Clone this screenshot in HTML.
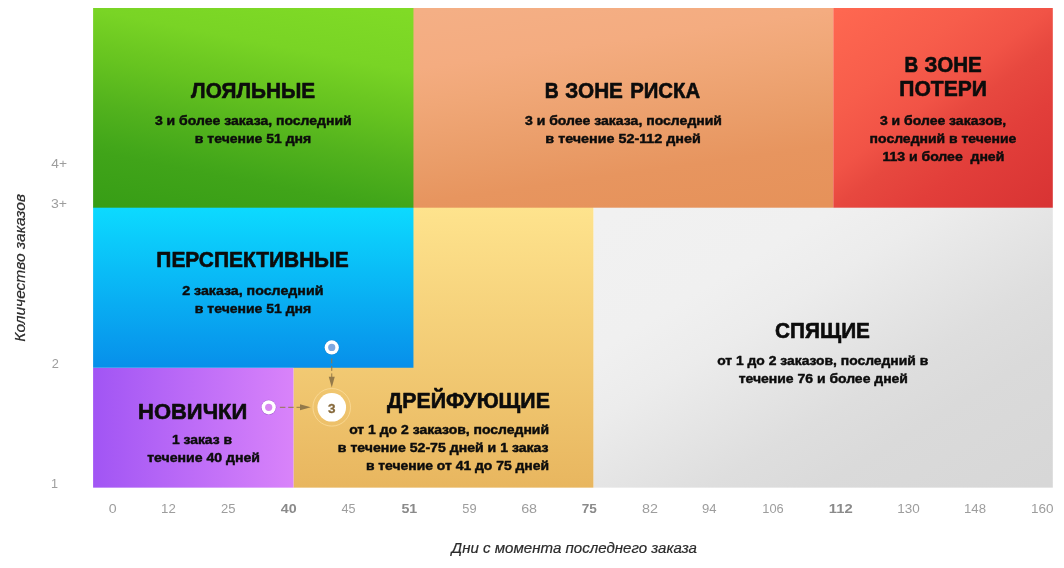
<!DOCTYPE html>
<html lang="ru"><head><meta charset="utf-8"><title>RFM сегменты</title>
<style>html,body{margin:0;padding:0;background:#fff}svg{display:block}text{font-family:"Liberation Sans", sans-serif;}</style></head><body>
<svg width="1064" height="568" viewBox="0 0 1064 568">
<defs><linearGradient id="gG" gradientUnits="userSpaceOnUse" x1="13.6" y1="-69.7" x2="-35.7" y2="183.6"><stop offset="0.0000" stop-color="rgb(128,219,38)"/><stop offset="0.0155" stop-color="rgb(128,219,38)"/><stop offset="0.2442" stop-color="rgb(121,212,37)"/><stop offset="0.3798" stop-color="rgb(107,199,33)"/><stop offset="0.4186" stop-color="rgb(103,196,32)"/><stop offset="0.6008" stop-color="rgb(82,178,29)"/><stop offset="0.7442" stop-color="rgb(67,167,26)"/><stop offset="0.7829" stop-color="rgb(64,164,25)"/><stop offset="0.9729" stop-color="rgb(56,158,22)"/><stop offset="1.0000" stop-color="rgb(55,157,22)"/></linearGradient><linearGradient id="gO" gradientUnits="userSpaceOnUse" x1="9.0" y1="64.3" x2="44.8" y2="318.8"><stop offset="0.0000" stop-color="rgb(244,175,133)"/><stop offset="0.0195" stop-color="rgb(244,175,133)"/><stop offset="0.2374" stop-color="rgb(244,172,128)"/><stop offset="0.3852" stop-color="rgb(240,167,119)"/><stop offset="0.6031" stop-color="rgb(234,157,105)"/><stop offset="0.7549" stop-color="rgb(231,149,95)"/><stop offset="0.9728" stop-color="rgb(230,146,90)"/><stop offset="1.0000" stop-color="rgb(230,146,90)"/></linearGradient><linearGradient id="gR" gradientUnits="userSpaceOnUse" x1="305.8" y1="405.9" x2="481.6" y2="639.2"><stop offset="0.0000" stop-color="rgb(255,104,81)"/><stop offset="0.0274" stop-color="rgb(254,103,80)"/><stop offset="0.2842" stop-color="rgb(247,93,75)"/><stop offset="0.4486" stop-color="rgb(241,83,70)"/><stop offset="0.5479" stop-color="rgb(231,72,63)"/><stop offset="0.7055" stop-color="rgb(226,62,58)"/><stop offset="0.9692" stop-color="rgb(217,52,52)"/><stop offset="1.0000" stop-color="rgb(216,51,52)"/></linearGradient><linearGradient id="gB" gradientUnits="userSpaceOnUse" x1="0.0" y1="208.0" x2="0.0" y2="368.0"><stop offset="0.0000" stop-color="rgb(12,218,255)"/><stop offset="1.0000" stop-color="rgb(7,143,234)"/></linearGradient><linearGradient id="gP" gradientUnits="userSpaceOnUse" x1="93.0" y1="0.0" x2="293.0" y2="0.0"><stop offset="0.0000" stop-color="rgb(161,85,244)"/><stop offset="1.0000" stop-color="rgb(217,131,250)"/></linearGradient><linearGradient id="gY" gradientUnits="userSpaceOnUse" x1="0.0" y1="208.0" x2="0.0" y2="488.0"><stop offset="0.0000" stop-color="rgb(254,227,141)"/><stop offset="1.0000" stop-color="rgb(232,182,95)"/></linearGradient><linearGradient id="gS" gradientUnits="userSpaceOnUse" x1="251.2" y1="415.2" x2="498.8" y2="824.3"><stop offset="0.0000" stop-color="rgb(241,241,241)"/><stop offset="0.0209" stop-color="rgb(241,241,241)"/><stop offset="0.2615" stop-color="rgb(240,240,240)"/><stop offset="0.3808" stop-color="rgb(236,236,236)"/><stop offset="0.5021" stop-color="rgb(229,229,229)"/><stop offset="0.6234" stop-color="rgb(222,222,222)"/><stop offset="0.7427" stop-color="rgb(218,218,218)"/><stop offset="0.9812" stop-color="rgb(215,215,215)"/><stop offset="1.0000" stop-color="rgb(215,215,215)"/></linearGradient></defs>
<rect x="0" y="0" width="1064" height="568" fill="#fff"/>
<rect x="593.4" y="206.7" width="459.40" height="280.95" fill="url(#gS)"/>
<rect x="293.45" y="206.7" width="299.95" height="280.95" fill="url(#gY)"/>
<rect x="93.1" y="367.75" width="200.35" height="119.90" fill="url(#gP)"/>
<rect x="93.1" y="206.7" width="320.35" height="161.05" fill="url(#gB)"/>
<rect x="412.45" y="8.0" width="420.85" height="199.70" fill="url(#gO)"/>
<rect x="93.1" y="8.0" width="320.35" height="199.70" fill="url(#gG)"/>
<rect x="833.3" y="8.0" width="219.50" height="199.70" fill="url(#gR)"/>
<text transform="translate(191.05 97.7) scale(0.9621 1)" font-size="21.6" font-weight="bold" font-style="normal" fill="#0c0c0c" stroke="#0c0c0c" stroke-width="0.6" stroke-linejoin="round">ЛОЯЛЬНЫЕ</text>
<text transform="translate(154.95 124.7) scale(1.1032 1)" font-size="12.7" font-weight="bold" font-style="normal" fill="#0c0c0c" stroke="#0c0c0c" stroke-width="0.45" stroke-linejoin="round">3 и более заказа, последний</text>
<text transform="translate(194.87 142.7) scale(1.1017 1)" font-size="12.7" font-weight="bold" font-style="normal" fill="#0c0c0c" stroke="#0c0c0c" stroke-width="0.45" stroke-linejoin="round">в течение 51 дня</text>
<text transform="translate(544.71 97.7) scale(0.8962 1)" font-size="21.6" font-weight="bold" font-style="normal" fill="#0c0c0c" stroke="#0c0c0c" stroke-width="0.6" stroke-linejoin="round">В</text>
<text transform="translate(565.32 97.7) scale(0.9600 1)" font-size="21.6" font-weight="bold" font-style="normal" fill="#0c0c0c" stroke="#0c0c0c" stroke-width="0.6" stroke-linejoin="round">ЗОНЕ</text>
<text transform="translate(630.14 97.7) scale(0.9433 1)" font-size="21.6" font-weight="bold" font-style="normal" fill="#0c0c0c" stroke="#0c0c0c" stroke-width="0.6" stroke-linejoin="round">РИСКА</text>
<text transform="translate(524.95 124.7) scale(1.1047 1)" font-size="12.7" font-weight="bold" font-style="normal" fill="#0c0c0c" stroke="#0c0c0c" stroke-width="0.45" stroke-linejoin="round">3 и более заказа, последний</text>
<text transform="translate(545.35 142.7) scale(1.1293 1)" font-size="12.7" font-weight="bold" font-style="normal" fill="#0c0c0c" stroke="#0c0c0c" stroke-width="0.45" stroke-linejoin="round">в течение 52-112 дней</text>
<text transform="translate(904.48 72.2) scale(0.8769 1)" font-size="21.6" font-weight="bold" font-style="normal" fill="#0c0c0c" stroke="#0c0c0c" stroke-width="0.6" stroke-linejoin="round">В</text>
<text transform="translate(924.57 72.2) scale(0.9515 1)" font-size="21.6" font-weight="bold" font-style="normal" fill="#0c0c0c" stroke="#0c0c0c" stroke-width="0.6" stroke-linejoin="round">ЗОНЕ</text>
<text transform="translate(899.34 95.7) scale(0.9759 1)" font-size="21.6" font-weight="bold" font-style="normal" fill="#0c0c0c" stroke="#0c0c0c" stroke-width="0.6" stroke-linejoin="round">ПОТЕРИ</text>
<text transform="translate(879.95 125.2) scale(1.1018 1)" font-size="12.7" font-weight="bold" font-style="normal" fill="#0c0c0c" stroke="#0c0c0c" stroke-width="0.45" stroke-linejoin="round">3 и более заказов,</text>
<text transform="translate(869.62 143.2) scale(1.1009 1)" font-size="12.7" font-weight="bold" font-style="normal" fill="#0c0c0c" stroke="#0c0c0c" stroke-width="0.45" stroke-linejoin="round">последний в течение</text>
<text transform="translate(882.40 161.2) scale(1.1065 1)" font-size="12.7" font-weight="bold" font-style="normal" fill="#0c0c0c" stroke="#0c0c0c" stroke-width="0.45" stroke-linejoin="round">113 и более  дней</text>
<text transform="translate(156.34 267.45) scale(0.9702 1)" font-size="21.6" font-weight="bold" font-style="normal" fill="#0c0c0c" stroke="#0c0c0c" stroke-width="0.6" stroke-linejoin="round">ПЕРСПЕКТИВНЫЕ</text>
<text transform="translate(182.17 294.7) scale(1.1186 1)" font-size="12.7" font-weight="bold" font-style="normal" fill="#0c0c0c" stroke="#0c0c0c" stroke-width="0.45" stroke-linejoin="round">2 заказа, последний</text>
<text transform="translate(194.87 312.7) scale(1.1017 1)" font-size="12.7" font-weight="bold" font-style="normal" fill="#0c0c0c" stroke="#0c0c0c" stroke-width="0.45" stroke-linejoin="round">в течение 51 дня</text>
<text transform="translate(138.02 419.45) scale(1.0182 1)" font-size="21.6" font-weight="bold" font-style="normal" fill="#0c0c0c" stroke="#0c0c0c" stroke-width="0.6" stroke-linejoin="round">НОВИЧКИ</text>
<text transform="translate(171.90 443.95) scale(1.0940 1)" font-size="12.7" font-weight="bold" font-style="normal" fill="#0c0c0c" stroke="#0c0c0c" stroke-width="0.45" stroke-linejoin="round">1 заказ в</text>
<text transform="translate(147.20 461.95) scale(1.1100 1)" font-size="12.7" font-weight="bold" font-style="normal" fill="#0c0c0c" stroke="#0c0c0c" stroke-width="0.45" stroke-linejoin="round">течение 40 дней</text>
<text transform="translate(387.05 408.45) scale(0.9872 1)" font-size="21.6" font-weight="bold" font-style="normal" fill="#0c0c0c" stroke="#0c0c0c" stroke-width="0.6" stroke-linejoin="round">ДРЕЙФУЮЩИЕ</text>
<text transform="translate(349.17 433.95) scale(1.1001 1)" font-size="12.7" font-weight="bold" font-style="normal" fill="#0c0c0c" stroke="#0c0c0c" stroke-width="0.45" stroke-linejoin="round">от 1 до 2 заказов, последний</text>
<text transform="translate(337.86 451.95) scale(1.1105 1)" font-size="12.7" font-weight="bold" font-style="normal" fill="#0c0c0c" stroke="#0c0c0c" stroke-width="0.45" stroke-linejoin="round">в течение 52-75 дней и 1 заказ</text>
<text transform="translate(365.88 469.95) scale(1.0956 1)" font-size="12.7" font-weight="bold" font-style="normal" fill="#0c0c0c" stroke="#0c0c0c" stroke-width="0.45" stroke-linejoin="round">в течение от 41 до 75 дней</text>
<text transform="translate(775.09 337.7) scale(0.9628 1)" font-size="21.6" font-weight="bold" font-style="normal" fill="#0c0c0c" stroke="#0c0c0c" stroke-width="0.6" stroke-linejoin="round">СПЯЩИЕ</text>
<text transform="translate(717.18 364.7) scale(1.0940 1)" font-size="12.7" font-weight="bold" font-style="normal" fill="#0c0c0c" stroke="#0c0c0c" stroke-width="0.45" stroke-linejoin="round">от 1 до 2 заказов, последний в</text>
<text transform="translate(738.70 382.7) scale(1.1003 1)" font-size="12.7" font-weight="bold" font-style="normal" fill="#0c0c0c" stroke="#0c0c0c" stroke-width="0.45" stroke-linejoin="round">течение 76 и более дней</text>
<text transform="translate(108.69 513.25) scale(1.1250 1)" font-size="12.6" font-weight="normal" font-style="normal" fill="#9d9d9d">0</text>
<text transform="translate(161.05 513.25) scale(1.0531 1)" font-size="12.6" font-weight="normal" font-style="normal" fill="#9d9d9d">12</text>
<text transform="translate(220.97 513.25) scale(1.0392 1)" font-size="12.6" font-weight="normal" font-style="normal" fill="#9d9d9d">25</text>
<text transform="translate(280.72 513.25) scale(1.1321 1)" font-size="12.6" font-weight="bold" font-style="normal" fill="#8a8a8a">40</text>
<text transform="translate(341.50 513.25) scale(1.0000 1)" font-size="12.6" font-weight="normal" font-style="normal" fill="#9d9d9d">45</text>
<text transform="translate(401.43 513.25) scale(1.1321 1)" font-size="12.6" font-weight="bold" font-style="normal" fill="#8a8a8a">51</text>
<text transform="translate(462.24 513.25) scale(1.0192 1)" font-size="12.6" font-weight="normal" font-style="normal" fill="#9d9d9d">59</text>
<text transform="translate(521.15 513.25) scale(1.1373 1)" font-size="12.6" font-weight="normal" font-style="normal" fill="#9d9d9d">68</text>
<text transform="translate(581.71 513.25) scale(1.0755 1)" font-size="12.6" font-weight="bold" font-style="normal" fill="#8a8a8a">75</text>
<text transform="translate(641.93 513.25) scale(1.1373 1)" font-size="12.6" font-weight="normal" font-style="normal" fill="#9d9d9d">82</text>
<text transform="translate(701.98 513.25) scale(1.0377 1)" font-size="12.6" font-weight="normal" font-style="normal" fill="#9d9d9d">94</text>
<text transform="translate(762.33 513.25) scale(1.0205 1)" font-size="12.6" font-weight="normal" font-style="normal" fill="#9d9d9d">106</text>
<text transform="translate(828.72 513.25) scale(1.1789 1)" font-size="12.6" font-weight="bold" font-style="normal" fill="#8a8a8a">112</text>
<text transform="translate(897.28 513.25) scale(1.0718 1)" font-size="12.6" font-weight="normal" font-style="normal" fill="#9d9d9d">130</text>
<text transform="translate(964.05 513.25) scale(1.0462 1)" font-size="12.6" font-weight="normal" font-style="normal" fill="#9d9d9d">148</text>
<text transform="translate(1031.03 513.25) scale(1.0718 1)" font-size="12.6" font-weight="normal" font-style="normal" fill="#9d9d9d">160</text>
<text transform="translate(51.23 167.9) scale(1.0963 1)" font-size="12.6" font-weight="normal" font-style="normal" fill="#9d9d9d">4+</text>
<text transform="translate(50.94 208) scale(1.1170 1)" font-size="12.6" font-weight="normal" font-style="normal" fill="#9d9d9d">3+</text>
<text transform="translate(51.64 367.8) scale(1.0182 1)" font-size="12.6" font-weight="normal" font-style="normal" fill="#9d9d9d">2</text>
<text transform="translate(50.90 487.6) scale(1.0000 1)" font-size="12.6" font-weight="normal" font-style="normal" fill="#9d9d9d">1</text>
<text transform="translate(451.59 553.4) scale(1.0338 1)" font-size="14.6" font-weight="normal" font-style="italic" fill="#2b2b2b" stroke="#2b2b2b" stroke-width="0.2" stroke-linejoin="round">Дни с момента последнего заказа</text>
<g transform="translate(24.8 341.3) rotate(-90)"><text transform="translate(-0.43 0) scale(1.0638 1)" font-size="14.6" font-weight="normal" font-style="italic" fill="#2b2b2b" stroke="#2b2b2b" stroke-width="0.2" stroke-linejoin="round">Количество заказов</text></g>
<g fill="none" stroke="#93794a" stroke-width="1"><path d="M331.75 358.4V377" stroke-dasharray="5 2.5"/><path d="M279.9 407.3H300" stroke-dasharray="5.5 2.8"/></g>
<path d="M328.75 376.7h6l-3 10.8z" fill="#93794a"/>
<path d="M300 404.3v6l10.8-3z" fill="#93794a"/>
<circle cx="331.75" cy="347.4" r="7.6" fill="#2f6fb5" opacity="0.45"/>
<circle cx="331.75" cy="347.4" r="7.1" fill="#fff"/><circle cx="331.75" cy="347.4" r="3.6" fill="#7fa8e0"/>
<circle cx="268.7" cy="407.3" r="7.6" fill="#7a3fa8" opacity="0.45"/>
<circle cx="268.7" cy="407.3" r="7.1" fill="#fff"/><circle cx="268.7" cy="407.3" r="3.6" fill="#d988f2"/>
<circle cx="331.75" cy="407.3" r="18.8" fill="none" stroke="#fbdc9a" stroke-width="1" stroke-opacity="0.8"/>
<circle cx="331.75" cy="407.3" r="14.3" fill="#fff"/>
<text x="331.75" y="412.5" font-size="13.5" font-weight="bold" fill="#86693b" stroke="#86693b" stroke-width="0.3" text-anchor="middle">3</text>
</svg></body></html>
